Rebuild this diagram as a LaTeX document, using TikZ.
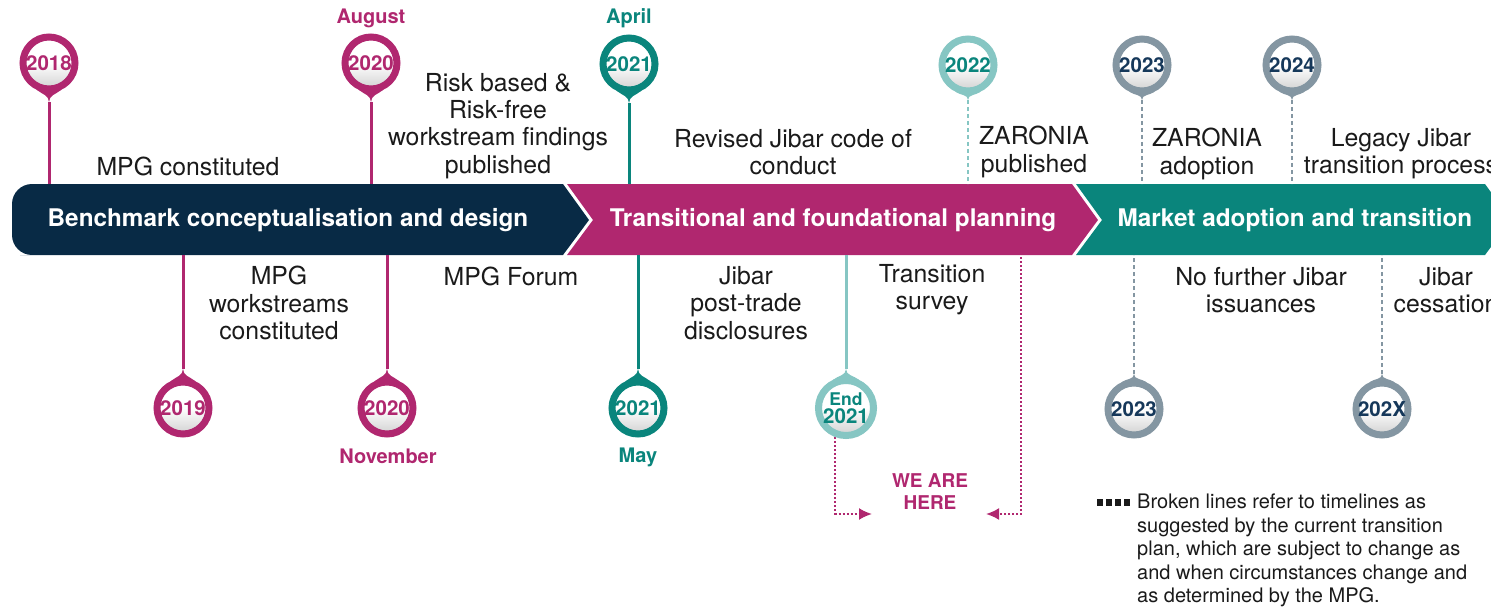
\documentclass[tikz,border=0pt]{standalone}
\usepackage{fontspec}
\setmainfont{TeX Gyre Heros}
\usetikzlibrary{calc,arrows.meta}

\definecolor{navy}{HTML}{082A45}
\definecolor{mag}{HTML}{B0276F}
\definecolor{tealc}{HTML}{0A857C}
\definecolor{lteal}{HTML}{86C6C3}
\definecolor{slate}{HTML}{8496A2}
\definecolor{pinnavy}{HTML}{16385A}
\definecolor{ink}{HTML}{1A1A1A}

\pgfdeclarelayer{bg}
\pgfsetlayers{bg,main}

\tikzset{
  pinring/.style 2 args={circle, draw=#1, line width=7pt, minimum size=52pt,
    inner sep=0pt, top color=white, bottom color=black!18, middle color=white,
    text=#2, font=\bfseries\fontsize{20.5}{18}\selectfont, align=center},
  desc/.style={align=center, text=ink, inner sep=0pt, font=\fontsize{24.8}{27.3}\selectfont},
  phase/.style={text=white, inner sep=0pt, font=\bfseries\fontsize{24.3}{27}\selectfont},
  month/.style={inner sep=0pt, font=\bfseries\fontsize{20}{22}\selectfont},
  solidstem/.style={draw=#1, line width=3pt},
  dashstem/.style={draw=#1, line width=2.6pt, dash pattern=on 4pt off 3pt},
  herearrow/.style={draw=mag, line width=2pt, dash pattern=on 2pt off 2pt,
    -{Latex[length=13pt,width=12pt]}},
}

% pin above the band: name, x, y, ring colour, text colour, label, drop length
\newcommand{\toppin}[7]{%
  \node[pinring={#4}{#5}] (#1) at (#2,-#3) {#6};
  \coordinate (#1-tip) at ($(#1)+(0,-#7)$);
  \fill[#4] (#1.245) to[out=-40,in=90] (#1-tip) to[out=90,in=-140] (#1.295) -- cycle;
}
% pin below the band
\newcommand{\botpin}[7]{%
  \node[pinring={#4}{#5}] (#1) at (#2,-#3) {#6};
  \coordinate (#1-tip) at ($(#1)+(0,#7)$);
  \fill[#4] (#1.115) to[out=40,in=-90] (#1-tip) to[out=-90,in=140] (#1.65) -- cycle;
}

\begin{document}
\begin{tikzpicture}[x=1pt,y=1pt]
\useasboundingbox (0,0) rectangle (1491,-607);
\clip (0,0) rectangle (1491,-607);

% band edges
\coordinate (bTop) at (0,-184);
\coordinate (bBot) at (0,-255);

% pins above the band
\toppin{p2018}{49}{63}{mag}{mag}{2018}{39}
\toppin{pAug20}{371}{63}{mag}{mag}{2020}{39}
\toppin{pApr21}{629}{64}{tealc}{tealc}{2021}{39}
\toppin{p2022}{968}{65}{lteal}{tealc}{2022}{35}
\toppin{p2023a}{1142}{65}{slate}{pinnavy}{2023}{35}
\toppin{p2024}{1292}{65}{slate}{pinnavy}{2024}{35}

% pins below the band
\botpin{p2019}{183}{408}{mag}{mag}{2019}{39}
\botpin{pNov20}{387}{408}{mag}{mag}{2020}{39}
\botpin{pMay21}{638}{408}{tealc}{tealc}{2021}{39}
\botpin{pE21}{846}{408}{lteal}{tealc}{\fontsize{17.5}{17}\selectfont End\\2021}{39}
\botpin{p2023b}{1134}{409}{slate}{pinnavy}{2023}{35}
\botpin{p202X}{1382}{409}{slate}{pinnavy}{202X}{35}

\begin{pgfonlayer}{bg}
  % phase band
  \fill[navy] (589,-220) -- (563,-184) -- (40,-184) [rounded corners=20pt]
    -- (12,-184) -- (12,-255) -- (40,-255) [sharp corners] -- (563,-255) -- cycle;
  \fill[mag] (567,-184) -- (1072,-184) -- (1098,-220) -- (1072,-255)
    -- (567,-255) -- (593,-220) -- cycle;
  \fill[tealc] (1076,-184) -- (1485,-184) -- (1511,-220) -- (1485,-255)
    -- (1076,-255) -- (1102,-220) -- cycle;

  % stems
  \draw[solidstem=mag] (p2018-tip) -- (p2018-tip |- bTop);
  \draw[solidstem=mag] (pAug20-tip) -- (pAug20-tip |- bTop);
  \draw[solidstem=tealc] (pApr21-tip) -- (pApr21-tip |- bTop);
  \draw[dashstem=lteal] (p2022-tip) -- (p2022-tip |- bTop);
  \draw[dashstem=slate] (p2023a-tip) -- (p2023a-tip |- bTop);
  \draw[dashstem=slate] (p2024-tip) -- (p2024-tip |- bTop);
  \draw[solidstem=mag] (p2019-tip) -- (p2019-tip |- bBot);
  \draw[solidstem=mag] (pNov20-tip) -- (pNov20-tip |- bBot);
  \draw[solidstem=tealc] (pMay21-tip) -- (pMay21-tip |- bBot);
  \draw[solidstem=lteal] (pE21-tip) -- (pE21-tip |- bBot);
  \draw[dashstem=slate] (p2023b-tip) -- (p2023b-tip |- bBot);
  \draw[dashstem=slate] (p202X-tip) -- (p202X-tip |- bBot);

  % "we are here" pointers
  \coordinate (hereL) at (872,-514);
  \coordinate (hereR) at (986,-514);
  \coordinate (hereTop) at (1021,-257);
  \draw[herearrow] (pE21.250) |- (hereL);
  \draw[herearrow] (hereTop) |- (hereR);
\end{pgfonlayer}

% phase titles
\node[phase] (ph1) at (288,-220) {Benchmark conceptualisation and design};
\node[phase] (ph2) at (833,-220) {Transitional and foundational planning};
\node[phase] (ph3) at (1295,-220) {Market adoption and transition};

% month labels
\node[month, text=mag] (mAug) at (371,-18) {August};
\node[month, text=tealc] (mApr) at (629,-18) {April};
\node[month, text=mag] (mNov) at (388,-456) {November};
\node[month, text=tealc] (mMay) at (638,-457) {May};

% milestones above the band
\node[desc] (d2018) at (188,-166) {MPG constituted};
\node[desc] (dAug20) at (498,-126) {Risk based \&\\Risk-free\\workstream findings\\published};
\node[desc] (dApr21) at (793,-152) {Revised Jibar code of\\conduct};
\node[desc] (d2022) at (1034,-152) {ZARONIA\\published};
\node[desc] (d2023a) at (1207,-154) {ZARONIA\\adoption};
\node[desc] (d2024) at (1401,-154) {Legacy Jibar\\transition process};

% milestones below the band
\node[desc] (d2019) at (279,-303) {MPG\\workstreams\\constituted};
\node[desc] (dNov20) at (511,-276) {MPG Forum};
\node[desc] (dMay21) at (746,-303) {Jibar\\post-trade\\disclosures};
\node[desc] (dE21) at (932,-290) {Transition\\survey};
\node[desc] (d2023b) at (1261,-290) {No further Jibar\\issuances};
\node[desc] (d202X) at (1446,-290) {Jibar\\cessation};

% current position
\node[month, text=mag, align=center, font=\bfseries\fontsize{19}{22}\selectfont] (here) at (930,-492) {WE ARE\\HERE};

% legend
\foreach \i in {0,1,2,3}
  \fill[ink] (1097+9*\i,-499) rectangle ++(6,-7);
\node[anchor=north west, align=left, inner sep=0pt, text=ink,
  font=\fontsize{20}{23.5}\selectfont] (note) at (1137,-494)
  {Broken lines refer to timelines as\\suggested by the current transition\\plan, which are subject to change as\\and when circumstances change and\\as determined by the MPG.};
\end{tikzpicture}
\end{document}
